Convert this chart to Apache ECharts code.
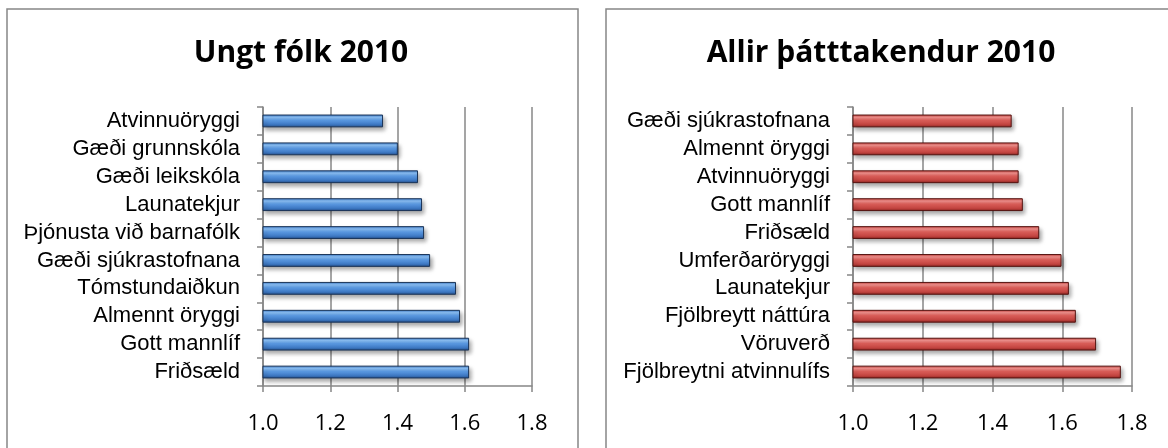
<!DOCTYPE html>
<html>
<head>
<meta charset="utf-8">
<script src="https://cdn.jsdelivr.net/npm/echarts@6/dist/echarts.min.js"></script>
<style>
  html, body { margin: 0; padding: 0; background: #fff; }
  #chart { width: 1168px; height: 448px; }
</style>
</head>
<body>
<div id="chart"></div>
<script>
// Ungt fólk 2010
const youngCategories = ['Atvinnuöryggi', 'Gæði grunnskóla', 'Gæði leikskóla', 'Launatekjur', 'Þjónusta við barnafólk',
  'Gæði sjúkrastofnana', 'Tómstundaiðkun', 'Almennt öryggi', 'Gott mannlíf', 'Friðsæld']
const youngValues = [1.357, 1.401, 1.461, 1.473, 1.479, 1.497, 1.574, 1.586, 1.613, 1.613]

// Allir þátttakendur 2010
const allCategories = ['Gæði sjúkrastofnana', 'Almennt öryggi', 'Atvinnuöryggi', 'Gott mannlíf', 'Friðsæld',
  'Umferðaröryggi', 'Launatekjur', 'Fjölbreytt náttúra', 'Vöruverð', 'Fjölbreytni atvinnulífs']
const allValues = [1.455, 1.475, 1.475, 1.487, 1.534, 1.598, 1.619, 1.639, 1.697, 1.768]

const xTicks = [1.0, 1.2, 1.4, 1.6, 1.8]

const gray = '#878787'

function barStyle(stops, border) {
  return {
    color: new echarts.graphic.LinearGradient(0, 0, 0, 1, stops),
    borderColor: border,
    borderWidth: 1,
    shadowColor: 'rgba(0,0,0,0.35)',
    shadowBlur: 4,
    shadowOffsetX: 2,
    shadowOffsetY: 3
  }
}

const blue = barStyle([
  { offset: 0, color: '#3a78c6' },
  { offset: 0.22, color: '#8ec4fb' },
  { offset: 0.45, color: '#5d9de8' },
  { offset: 0.8, color: '#3b75bf' },
  { offset: 1, color: '#244c85' }
], '#1a3458')

const red = barStyle([
  { offset: 0, color: '#c23f3b' },
  { offset: 0.22, color: '#f79490' },
  { offset: 0.45, color: '#e0605b' },
  { offset: 0.8, color: '#bf423e' },
  { offset: 1, color: '#86231f' }
], '#561411')

function xAxis(gridIndex) {
  return {
    type: 'value',
    gridIndex: gridIndex,
    min: xTicks[0],
    max: xTicks[xTicks.length - 1],
    interval: 0.2,
    axisLine: { show: true, lineStyle: { color: gray, width: 1.5 } },
    axisTick: { show: true, length: 6, lineStyle: { color: gray, width: 1.5 } },
    splitLine: { show: true, lineStyle: { color: gray, width: 1.5 } },
    axisLabel: {
      color: '#000',
      fontFamily: 'Open Sans',
      fontSize: 22,
      margin: 27,
      formatter: function (v) {
        return v.toFixed(1)
      }
    }
  }
}

function yAxis(gridIndex, data) {
  return {
    type: 'category',
    gridIndex: gridIndex,
    inverse: true,
    data: data,
    axisLine: { show: true, lineStyle: { color: gray, width: 1.5 } },
    axisTick: { show: true, length: 6, lineStyle: { color: gray, width: 1.5 } },
    axisLabel: {
      color: '#000',
      fontFamily: 'Liberation Sans',
      fontSize: 22,
      margin: 23,
      interval: 0
    }
  }
}

let myChart = echarts.init(document.getElementById('chart'))
let option = {
  animation: false,
  title: [
    {
      text: 'Ungt fólk 2010',
      left: 296,
      top: 33,
      textAlign: 'center',
      textStyle: { fontFamily: 'Open Sans', fontWeight: 'bold', fontSize: 30, color: '#000' }
    },
    {
      text: 'Allir þátttakendur 2010',
      left: 876,
      top: 33,
      textAlign: 'center',
      textStyle: { fontFamily: 'Open Sans', fontWeight: 'bold', fontSize: 30, color: '#000' }
    }
  ],
  graphic: [
    {
      type: 'rect',
      shape: { x: 7, y: 9, width: 571, height: 470 },
      style: { fill: 'none', stroke: gray, lineWidth: 1.5 },
      silent: true
    },
    {
      type: 'rect',
      shape: { x: 606, y: 9, width: 600, height: 470 },
      style: { fill: 'none', stroke: gray, lineWidth: 1.5 },
      silent: true
    }
  ],
  grid: [
    { left: 263, top: 107, width: 269, height: 279 },
    { left: 853, top: 107, width: 279, height: 279 }
  ],
  xAxis: [xAxis(0), xAxis(1)],
  yAxis: [yAxis(0, youngCategories), yAxis(1, allCategories)],
  series: [
    {
      type: 'bar',
      xAxisIndex: 0,
      yAxisIndex: 0,
      data: youngValues,
      barWidth: '46%',
      itemStyle: blue
    },
    {
      type: 'bar',
      xAxisIndex: 1,
      yAxisIndex: 1,
      data: allValues,
      barWidth: '46%',
      itemStyle: red
    }
  ]
}
myChart.setOption(option)
</script>
</body>
</html>
